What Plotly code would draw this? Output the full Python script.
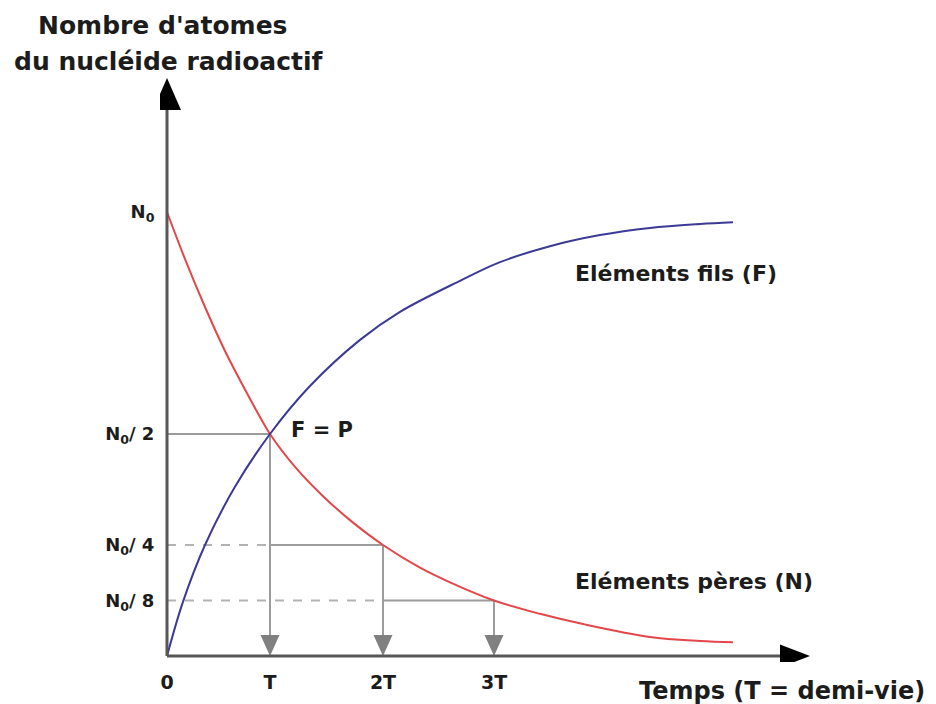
import plotly.graph_objects as go

# ---------------- data ----------------
# time in units of the half-life T ; amounts as a fraction of N0
time_parent = [0, 0.175, 0.369, 0.563, 0.786, 1.0, 1.243, 1.515, 1.777, 2.097,
               2.456, 2.748, 3.175, 3.621, 4.039, 4.689, 5.175, 5.495]
parent_N = [1.0, 0.894, 0.786, 0.687, 0.588, 0.5, 0.426, 0.36, 0.306, 0.25,
            0.199, 0.166, 0.125, 0.095, 0.072, 0.043, 0.034, 0.031]

time_daughter = [0, 0.155, 0.369, 0.660, 1.0, 1.388, 1.874, 2.262, 2.845, 3.233,
                 3.718, 4.204, 4.689, 5.175, 5.495]
daughter_F = [0, 0.122, 0.25, 0.381, 0.5, 0.608, 0.712, 0.775, 0.845, 0.887,
              0.923, 0.948, 0.964, 0.973, 0.977]

half_life_times = [1.0, 2.097, 3.175]
half_life_levels = [0.5, 0.25, 0.125]

x_tick_vals = [0, 1.0, 2.097, 3.175]
x_tick_text = ["0", "T", "2T", "3T"]
y_tick_vals = [1.0, 0.5, 0.25, 0.125]
y_tick_text = ["N<sub>0</sub>", "N<sub>0</sub>/ 2", "N<sub>0</sub>/ 4", "N<sub>0</sub>/ 8"]

# ---------------- styling ----------------
RED = "#e2474a"
BLUE = "#3b3a96"
GUIDE = "#9c9c9c"
DASH_GREY = "#b3b3b3"
HEAD_GREY = "#808080"
AXIS = "#575757"
TEXT = "#1c1c1c"
FONT = "DejaVu Sans"

# pixel scale of the plot (px per data unit)
PX_X = 103.0
PX_Y = 444.0
X_RANGE = [-7 / PX_X, 647 / PX_X]
Y_RANGE = [-6 / PX_Y, 582 / PX_Y]


def paper_x(v):
    return (v - X_RANGE[0]) / (X_RANGE[1] - X_RANGE[0])


def paper_y(v):
    return (v - Y_RANGE[0]) / (Y_RANGE[1] - Y_RANGE[0])


fig = go.Figure()

# guide lines (horizontal levels and drops to the time axis)
prev_t = [0] + half_life_times[:-1]
for i, (t, lvl) in enumerate(zip(half_life_times, half_life_levels)):
    if i > 0:
        fig.add_trace(go.Scatter(x=[0, prev_t[i]], y=[lvl, lvl], mode="lines",
                                 line=dict(color=DASH_GREY, width=2, dash="9px,9px"),
                                 hoverinfo="skip", showlegend=False))
    fig.add_trace(go.Scatter(x=[prev_t[i], t], y=[lvl, lvl], mode="lines",
                             line=dict(color=GUIDE, width=2),
                             hoverinfo="skip", showlegend=False))
    fig.add_trace(go.Scatter(x=[t, t], y=[lvl, 18 / PX_Y], mode="lines",
                             line=dict(color=GUIDE, width=2),
                             hoverinfo="skip", showlegend=False))

# curves
fig.add_trace(go.Scatter(x=time_parent, y=parent_N, mode="lines",
                         line=dict(color=RED, width=2, shape="spline", smoothing=1.0),
                         name="Eléments pères (N)", showlegend=False))
fig.add_trace(go.Scatter(x=time_daughter, y=daughter_F, mode="lines",
                         line=dict(color=BLUE, width=2, shape="spline", smoothing=1.0),
                         name="Eléments fils (F)", showlegend=False))

shapes = []
# arrow heads on the drops
hw, hh = 9.5 / PX_X, 21 / PX_Y
for t in half_life_times:
    shapes.append(dict(type="path", xref="x", yref="y",
                       path=f"M{t-hw},{hh} L{t+hw},{hh} L{t},0 Z",
                       fillcolor=HEAD_GREY, line=dict(width=0), layer="above"))

# axes
y_top = Y_RANGE[1] - 4 / PX_Y
x_end = X_RANGE[1] - 4 / PX_X
shapes.append(dict(type="line", xref="x", yref="y", x0=0, y0=0, x1=0, y1=y_top - 30 / PX_Y,
                   line=dict(color=AXIS, width=3), layer="above"))
shapes.append(dict(type="line", xref="x", yref="y", x0=0, y0=0, x1=x_end - 28 / PX_X, y1=0,
                   line=dict(color=AXIS, width=3), layer="above"))
shapes.append(dict(type="path", xref="x", yref="y",
                   path=f"M{-14/PX_X},{y_top-32/PX_Y} L{14/PX_X},{y_top-32/PX_Y} L0,{y_top} Z",
                   fillcolor="#000000", line=dict(width=0), layer="above"))
shapes.append(dict(type="path", xref="x", yref="y",
                   path=f"M{x_end-30/PX_X},{11.5/PX_Y} L{x_end-30/PX_X},{-11.5/PX_Y} L{x_end},0 Z",
                   fillcolor="#000000", line=dict(width=0), layer="above"))

annotations = [
    dict(text="Nombre d'atomes", x=-0.039, y=1.420, xanchor="center", size=25),
    dict(text="du nucléide radioactif", x=0.015, y=1.340, xanchor="center", size=25),
    dict(text="Temps (T = demi-vie)", x=4.563, y=-0.079, xanchor="left", size=24),
    dict(text="F = P", x=1.184, y=0.508, xanchor="left", size=21),
    dict(text="Eléments fils (F)", x=3.942, y=0.861, xanchor="left", size=22),
    dict(text="Eléments pères (N)", x=3.942, y=0.167, xanchor="left", size=22),
]
ann_list = []
for a in annotations:
    ann_list.append(dict(text=a["text"], x=paper_x(a["x"]), y=paper_y(a["y"]),
                         xref="paper", yref="paper",
                         xanchor=a["xanchor"], yanchor="middle", showarrow=False,
                         font=dict(family=FONT, size=a["size"], color=TEXT, weight="bold")))

# page body adds an 8 px offset, so the figure is 8 px smaller and shifted up/left
fig.update_layout(
    width=928, height=696,
    margin=dict(l=152, r=122, t=66, b=42, pad=0, autoexpand=False),
    paper_bgcolor="white", plot_bgcolor="white",
    shapes=shapes, annotations=ann_list,
    showlegend=False,
    font=dict(family=FONT, color=TEXT),
)
fig.update_xaxes(range=X_RANGE, showgrid=False, zeroline=False, showline=False,
                 tickvals=x_tick_vals, ticktext=x_tick_text,
                 ticks="outside", ticklen=3, tickcolor="rgba(0,0,0,0)",
                 tickfont=dict(family=FONT, size=19, color=TEXT, weight="bold"),
                 automargin=False, fixedrange=True)
fig.update_yaxes(range=Y_RANGE, showgrid=False, zeroline=False, showline=False,
                 tickvals=y_tick_vals, ticktext=y_tick_text,
                 ticks="outside", ticklen=1, tickcolor="rgba(0,0,0,0)",
                 tickfont=dict(family=FONT, size=18, color=TEXT, weight="bold"),
                 automargin=False, fixedrange=True)

fig.write_html("out.html")
